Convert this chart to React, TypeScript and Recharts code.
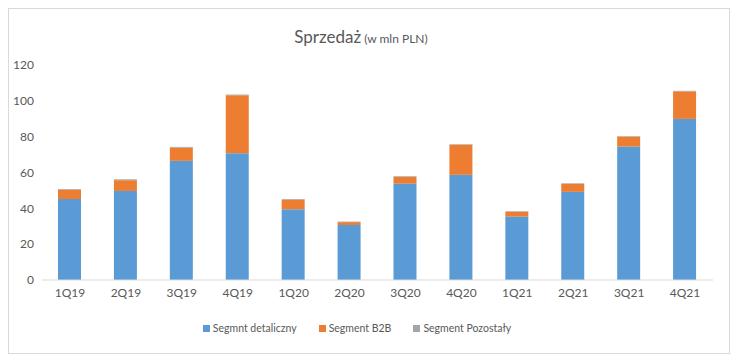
import React from "react";
import { BarChart, Bar, XAxis, YAxis, Legend } from "recharts";

const quarters = ["1Q19", "2Q19", "3Q19", "4Q19", "1Q20", "2Q20", "3Q20", "4Q20", "1Q21", "2Q21", "3Q21", "4Q21"];
const detaliczny = [45.2, 49.7, 66.5, 70.8, 39.5, 30.7, 53.8, 58.7, 35.4, 49.2, 74.5, 89.9];
const b2b = [5.2, 6.0, 7.4, 32.3, 5.3, 1.6, 3.7, 16.8, 2.7, 4.5, 5.5, 15.4];
const pozostaly = [0.4, 0.5, 0.4, 0.4, 0.4, 0.3, 0.4, 0.3, 0.3, 0.3, 0.3, 0.3];
const yTicks = [0, 20, 40, 60, 80, 100, 120];

const series = [
  { key: "det", name: "Segmnt detaliczny", color: "#5b9bd5" },
  { key: "b2b", name: "Segment B2B", color: "#ed7d31" },
  { key: "poz", name: "Segment Pozostały", color: "#a5a5a5" }
];

const data = quarters.map((q, i) => ({
  q,
  det: detaliczny[i],
  b2b: b2b[i],
  poz: pozostaly[i]
}));

const FONT = 'Lato, "Liberation Sans", sans-serif';
const TEXT = "#595959";

const LegendContent = () => (
  <div style={{ display: "flex", justifyContent: "center", gap: 22, paddingTop: 12, paddingRight: 8, fontSize: 10.5, color: TEXT, fontFamily: FONT }}>
    {series.map((s) => (
      <div key={s.key} style={{ display: "flex", alignItems: "center" }}>
        <span style={{ display: "inline-block", width: 7, height: 7, background: s.color, marginRight: 3 }} />
        {s.name}
      </div>
    ))}
  </div>
);

export default function App() {
  return (
    <div
      style={{
        position: "relative",
        width: 720,
        height: 344,
        border: "1px solid #d9d9d9",
        background: "#fff",
        fontFamily: FONT
      }}
    >
      <div
        style={{
          position: "absolute",
          top: 17,
          left: 0,
          width: 720,
          textAlign: "center",
          color: TEXT,
          paddingRight: 16,
          boxSizing: "border-box",
          zIndex: 1
        }}
      >
        <span style={{ fontSize: 17 }}>Sprzedaż</span>
        <span style={{ fontSize: 12 }}> (w mln PLN)</span>
      </div>
      <BarChart
        width={720}
        height={344}
        data={data}
        margin={{ top: 56, right: 16, left: 0, bottom: 13 }}
        barSize={23}
      >
        <XAxis
          dataKey="q"
          tickLine={false}
          axisLine={{ stroke: "#d9d9d9" }}
          tick={{ fill: TEXT, fontSize: 12, fontFamily: FONT }}
          height={30}
        />
        <YAxis
          domain={[0, 120]}
          ticks={yTicks}
          tickLine={false}
          axisLine={false}
          width={33}
          tick={{ fill: TEXT, fontSize: 12, fontFamily: FONT }}
        />
        <Legend verticalAlign="bottom" height={30} content={LegendContent} />
        {series.map((s) => (
          <Bar key={s.key} dataKey={s.key} name={s.name} stackId="a" fill={s.color} isAnimationActive={false} />
        ))}
      </BarChart>
    </div>
  );
}
